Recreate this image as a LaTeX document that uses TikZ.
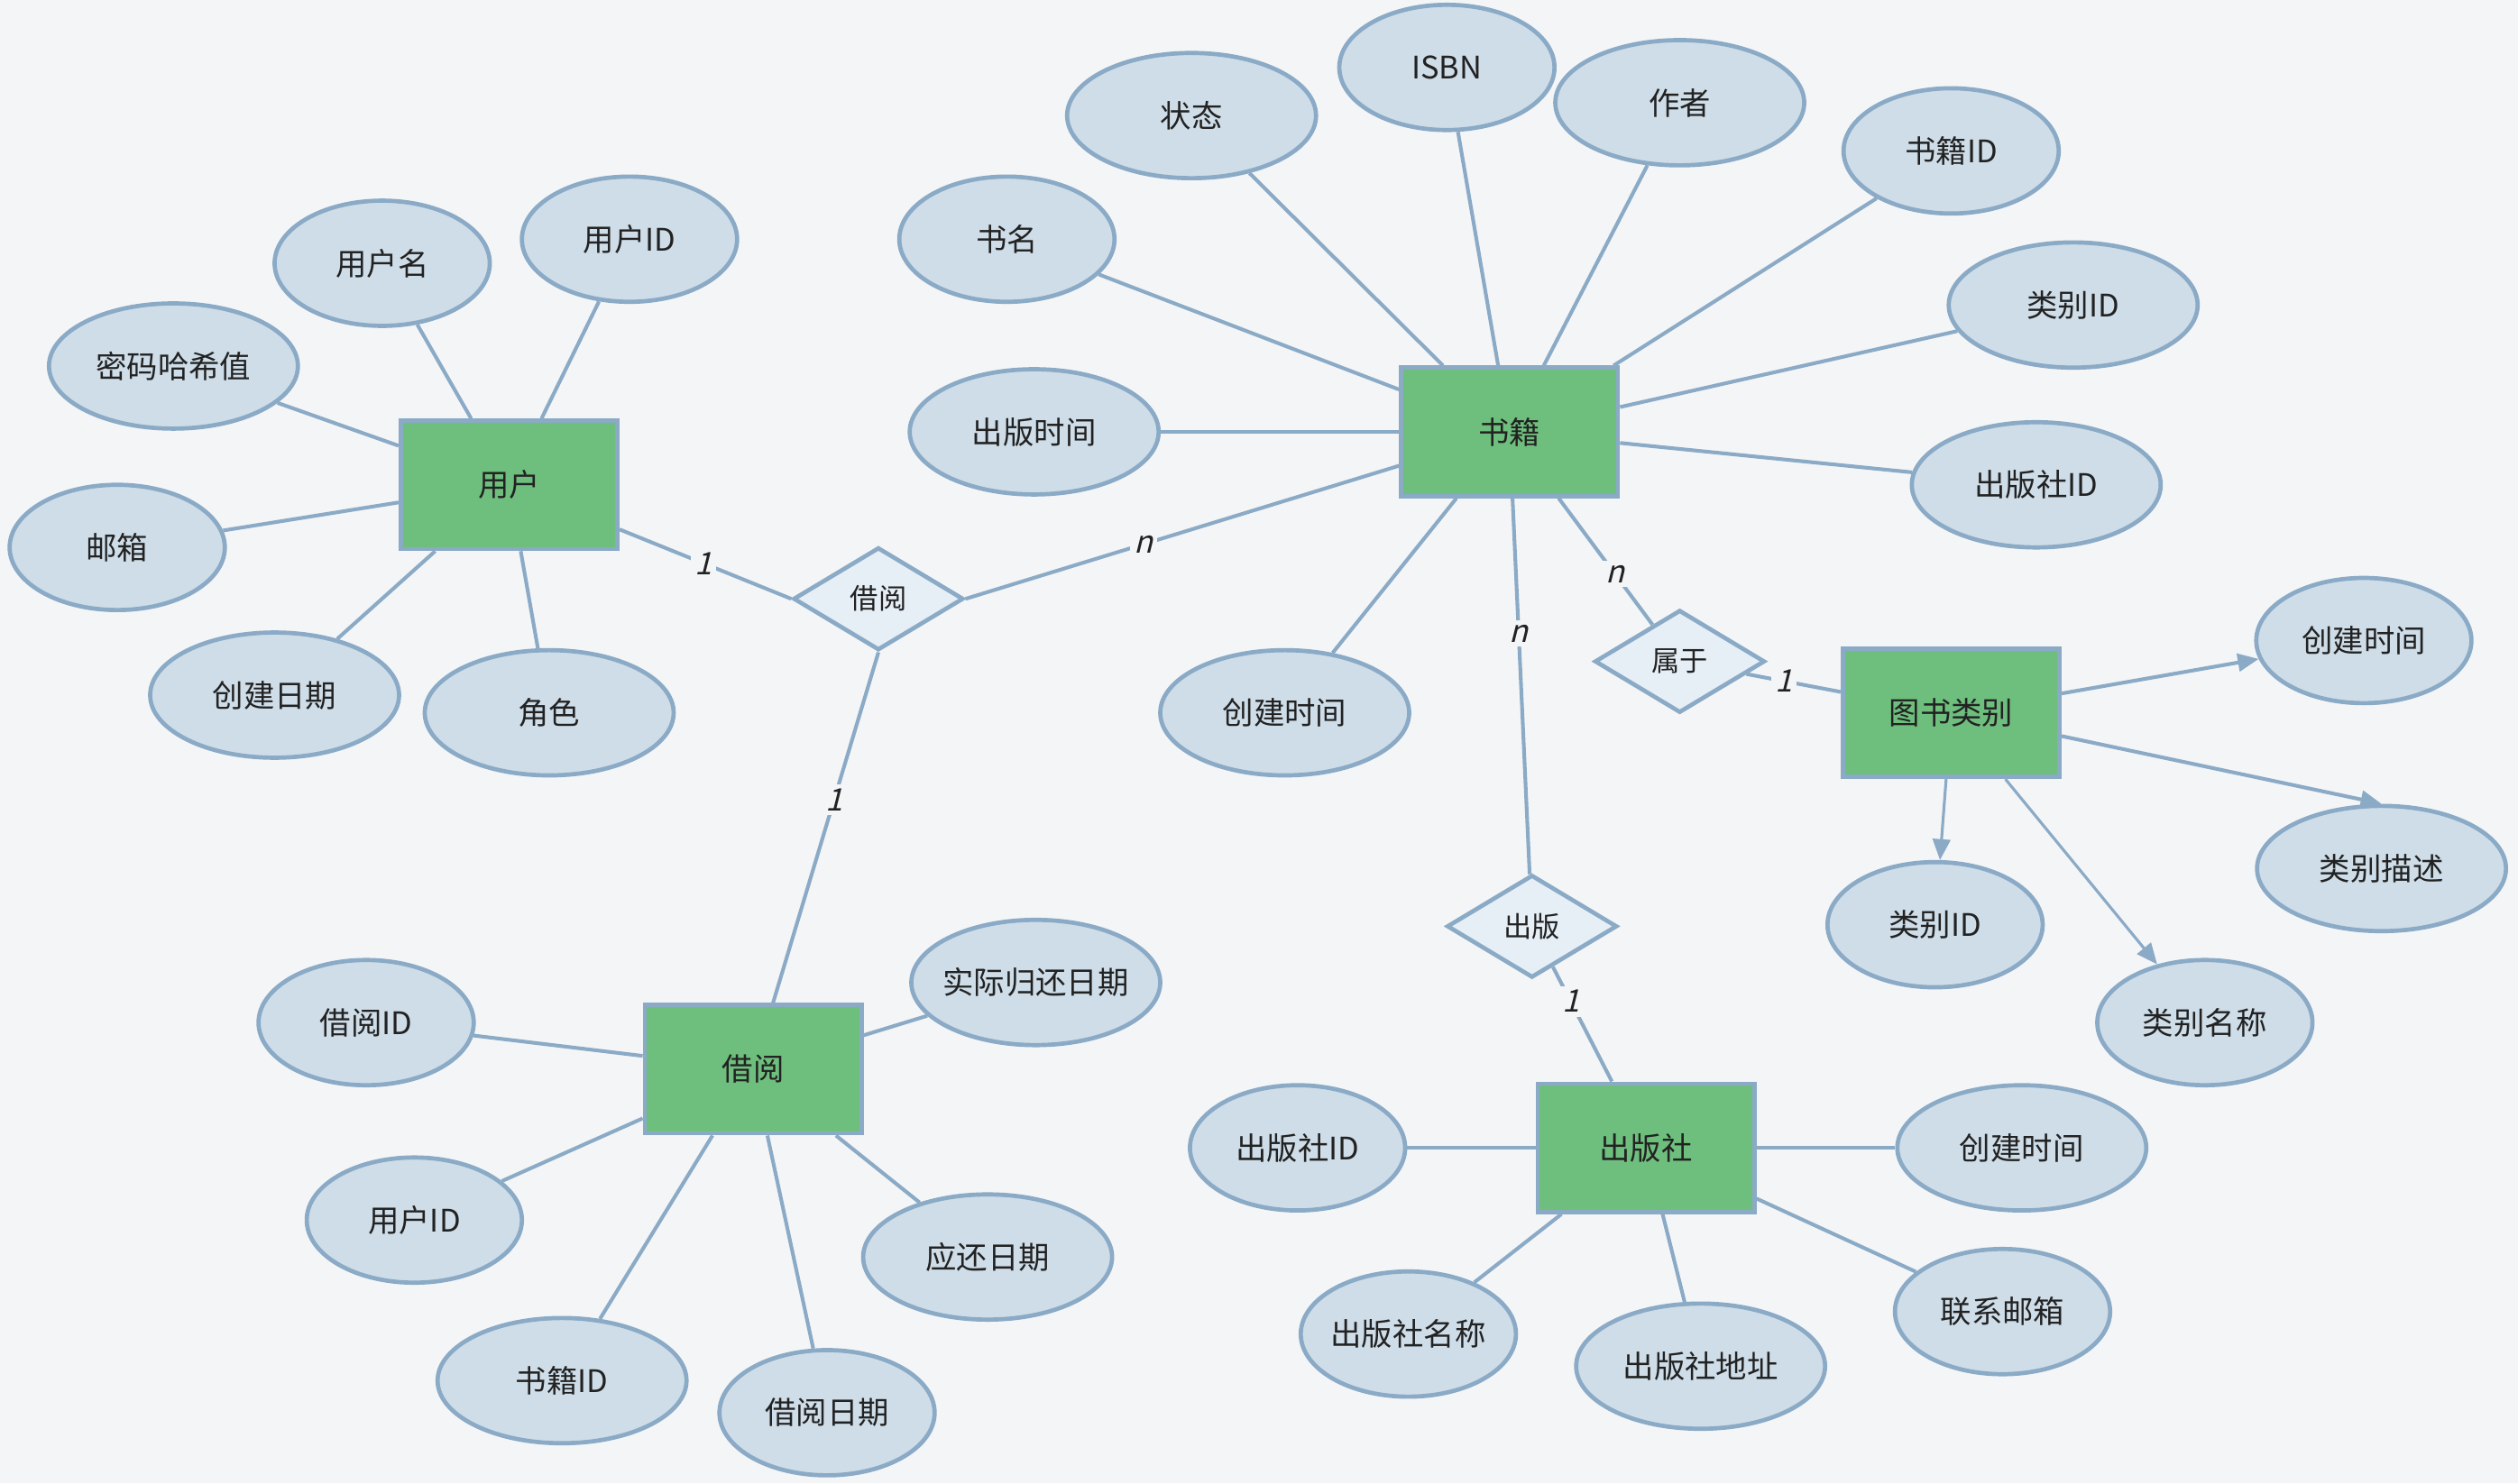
\documentclass[tikz,border=0pt]{standalone}
\usepackage{fontspec}
\setmainfont{Noto Sans CJK SC}
\newfontfamily\cardfont[FakeSlant=0.25]{Noto Sans CJK SC}
\usetikzlibrary{arrows.meta,shapes.geometric}
\definecolor{canvas}{HTML}{F4F5F7}
\definecolor{edgeblue}{HTML}{8AAAC6}
\definecolor{attrfill}{HTML}{CEDDE8}
\definecolor{relfill}{HTML}{E6EEF6}
\definecolor{entitygreen}{HTML}{6EBF7D}
\definecolor{inkdark}{HTML}{222222}
\tikzset{
  entity/.style={draw=edgeblue, line width=1.5pt, fill=entitygreen, text=inkdark,
    minimum width=2.7cm, minimum height=1.6cm, font=\fontsize{11}{13}\selectfont},
  attr/.style={ellipse, draw=edgeblue, line width=1.5pt, fill=attrfill, text=inkdark,
    minimum width=3.1cm, minimum height=1.56cm, inner xsep=-2pt, inner ysep=1pt,
    font=\fontsize{11}{13}\selectfont},
  attrsmall/.style={attr, minimum width=2.68cm},
  relation/.style={diamond, draw=edgeblue, line width=1.5pt, fill=relfill, text=inkdark,
    minimum width=2.12cm, minimum height=1.28cm, inner sep=0pt, font=\fontsize{10}{12}\selectfont},
  link/.style={draw=edgeblue, line width=1.3pt},
  arrlink/.style={link, -{Triangle[length=2.6mm, width=2.2mm]}},
  card/.style={fill=canvas, inner sep=1.5pt, text=inkdark, font=\cardfont\fontsize{11}{13}\selectfont}
}
\begin{document}
\begin{tikzpicture}[x=0.2mm, y=-0.2mm]
  \fill[canvas] (0,0) rectangle (1568,924);
  \useasboundingbox (0,0) rectangle (1568,924);

  \node[entity] (user) at (317,302) {用户};
  \node[entity] (book) at (940,269) {书籍};
  \node[entity] (borrow) at (469,666) {借阅};
  \node[entity] (category) at (1215,444) {图书类别};
  \node[entity] (press) at (1025,715) {出版社};

  \node[relation] (borrowrel) at (547,373) {借阅};
  \node[relation] (belong) at (1046,412) {属于};
  \node[relation] (publish) at (954,577) {出版};

  \node[attrsmall] (username) at (238,164) {用户名};
  \node[attrsmall] (userid) at (392,149) {用户ID};
  \node[attr] (pwdhash) at (108,228) {密码哈希值};
  \node[attrsmall] (email) at (73,341) {邮箱};
  \node[attr] (usercreated) at (171,433) {创建日期};
  \node[attr] (role) at (342,444) {角色};

  \node[attr] (status) at (742,72) {状态};
  \node[attrsmall] (isbn) at (901,42) {ISBN};
  \node[attr] (author) at (1046,64) {作者};
  \node[attrsmall] (bookid) at (1215,94) {书籍ID};
  \node[attrsmall] (title) at (627,149) {书名};
  \node[attr] (bookcat) at (1291,190) {类别ID};
  \node[attr] (pubtime) at (644,269) {出版时间};
  \node[attr] (bookpress) at (1268,302) {出版社ID};
  \node[attr] (bookcreated) at (800,444) {创建时间};

  \node[attrsmall] (catcreated) at (1472,399) {创建时间};
  \node[attr] (catdesc) at (1483,541) {类别描述};
  \node[attrsmall] (catid) at (1205,576) {类别ID};
  \node[attrsmall] (catname) at (1373,637) {类别名称};

  \node[attrsmall] (pressid) at (808,715) {出版社ID};
  \node[attr] (presscreated) at (1259,715) {创建时间};
  \node[attrsmall] (pressname) at (877,831) {出版社名称};
  \node[attr] (pressaddr) at (1059,851) {出版社地址};
  \node[attrsmall] (pressmail) at (1247,817) {联系邮箱};

  \node[attrsmall] (borrowid) at (228,637) {借阅ID};
  \node[attr] (returned) at (645,612) {实际归还日期};
  \node[attrsmall] (borrowuser) at (258,760) {用户ID};
  \node[attr] (duedate) at (615,783) {应还日期};
  \node[attr] (borrowbook) at (350,860) {书籍ID};
  \node[attrsmall] (borrowdate) at (515,880) {借阅日期};

  \draw[link] (user) -- (username);
  \draw[link] (user) -- (userid);
  \draw[link] (user) -- (pwdhash);
  \draw[link] (user) -- (email);
  \draw[link] (user) -- (usercreated);
  \draw[link] (user) -- (role);

  \draw[link] (book) -- (status);
  \draw[link] (book) -- (isbn);
  \draw[link] (book) -- (author);
  \draw[link] (book) -- (bookid);
  \draw[link] (book) -- (title);
  \draw[link] (book) -- (bookcat);
  \draw[link] (book) -- (pubtime);
  \draw[link] (book) -- (bookpress);
  \draw[link] (book) -- (bookcreated);

  \draw[arrlink] (category) -- (catcreated);
  \draw[arrlink] (category) -- (catdesc.north);
  \draw[arrlink, line width=1pt] (category) -- (catid);
  \draw[arrlink, line width=1pt] (category) -- (catname);

  \draw[link] (press) -- (pressid);
  \draw[link] (press) -- (presscreated);
  \draw[link] (press) -- (pressname);
  \draw[link] (press) -- (pressaddr);
  \draw[link] (press) -- (pressmail);

  \draw[link] (borrow) -- (borrowid);
  \draw[link] (borrow) -- (returned);
  \draw[link] (borrow) -- (borrowuser);
  \draw[link] (borrow) -- (duedate);
  \draw[link] (borrow) -- (borrowbook);
  \draw[link] (borrow) -- (borrowdate);

  \draw[link] (user) -- node[card, pos=0.49] {1} (borrowrel.west);
  \draw[link] (borrowrel.east) -- node[card, pos=0.41] {n} (book);
  \draw[link] (borrowrel.south) -- node[card, pos=0.42] {1} (borrow);
  \draw[link] (book) -- node[card, pos=0.6] {n} (belong);
  \draw[link] (belong) -- node[card, pos=0.4] {1} (category);
  \draw[link] (book) -- node[card, pos=0.36] {n} (publish);
  \draw[link] (publish) -- node[card, pos=0.3] {1} (press);
\end{tikzpicture}
\end{document}
